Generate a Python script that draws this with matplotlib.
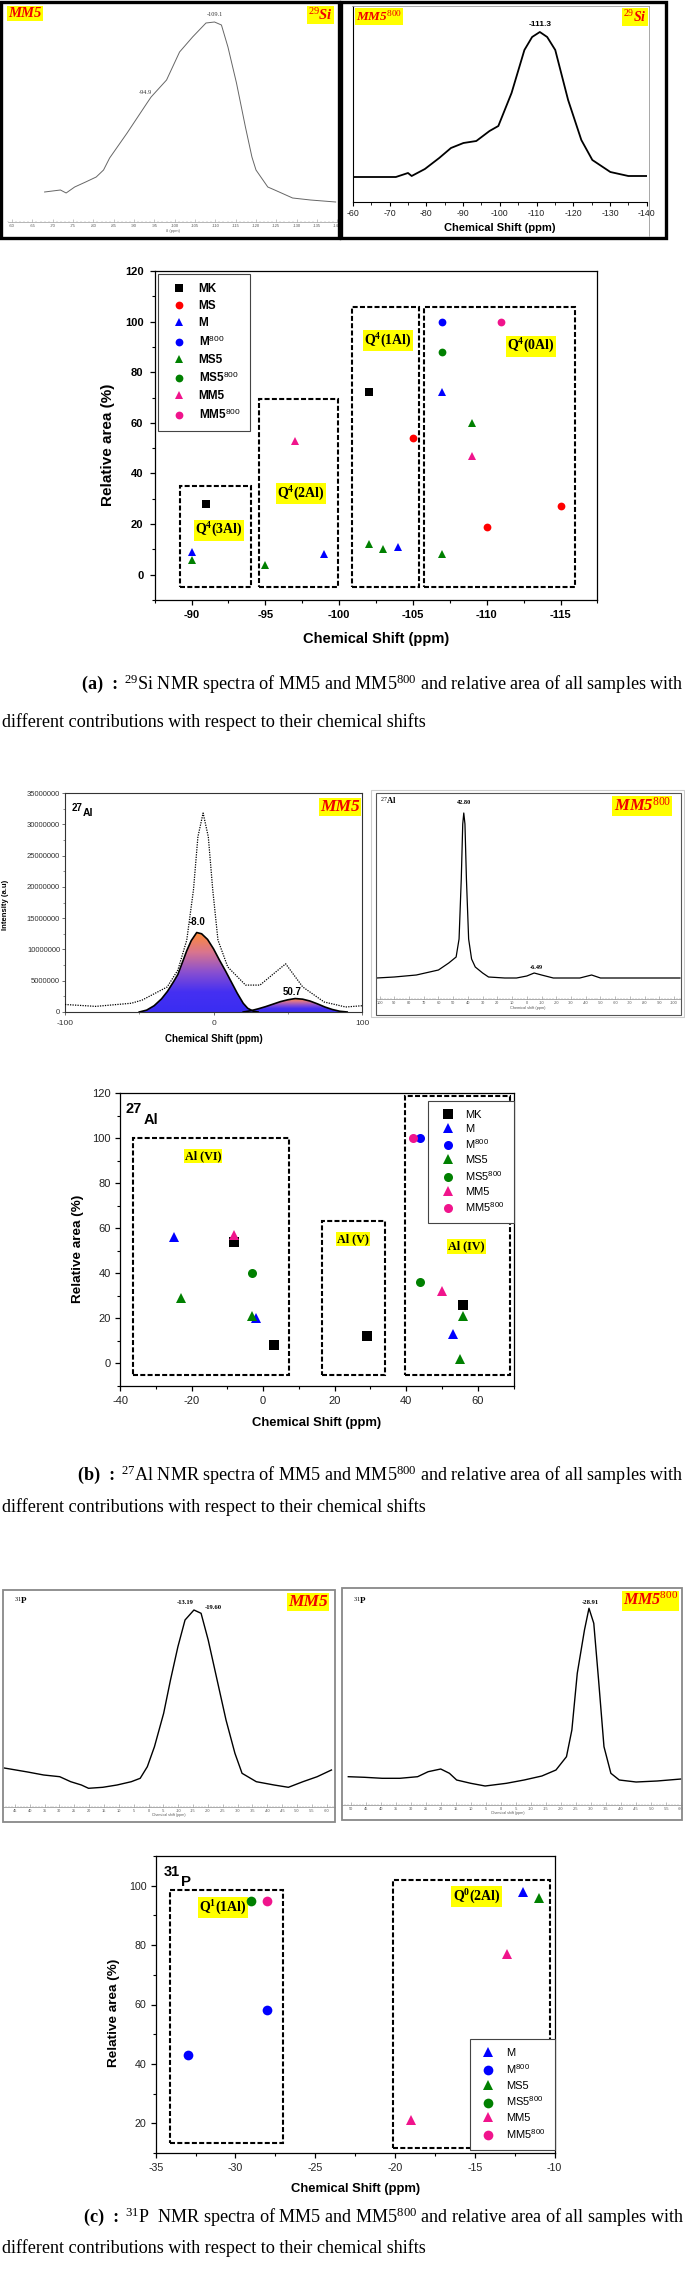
import numpy as np
import matplotlib
matplotlib.use('Agg')
import matplotlib.pyplot as plt
from matplotlib.lines import Line2D
from matplotlib.patches import Rectangle
from matplotlib.colors import LinearSegmentedColormap
from matplotlib.ticker import MultipleLocator, FixedLocator, FuncFormatter

plt.rcParams['font.family'] = ['Liberation Sans', 'DejaVu Sans']
plt.rcParams['mathtext.fontset'] = 'custom'
plt.rcParams['mathtext.rm'] = 'Liberation Serif'
plt.rcParams['mathtext.it'] = 'Liberation Serif:italic'
plt.rcParams['mathtext.bf'] = 'Liberation Serif:bold'
plt.rcParams['mathtext.sf'] = 'Liberation Sans'
plt.rcParams['axes.unicode_minus'] = False

SERIF = ['Liberation Serif', 'DejaVu Serif']
SANS = ['Liberation Sans', 'DejaVu Sans']

# ======================= DATA =======================
# --- 29Si spectra ---
si_mm5_shift = [-68, -71.9, -73.3, -75.4, -78.1, -80.7, -82.5, -84.0, -88.3, -93.2, -94.2, -98.0,
                -101.2, -104.4, -107.7, -109.8, -111.5, -113.1, -115.2, -117.4, -119.0, -120.0,
                -122.9, -124.6, -129.0, -133.4, -139.6]
si_mm5_int = [30, 32, 29, 35, 40, 45, 52, 64, 89, 119, 125, 142, 170, 185, 199, 200, 197, 175,
              139, 95, 65, 52, 35, 32, 24, 22, 20]
si_mm5800_shift = [-60, -71.7, -75.0, -76.0, -79.6, -83.5, -86.7, -90.1, -93.6, -97.2, -99.6, -103.2,
                   -106.7, -108.8, -110.9, -112.9, -115.1, -118.6, -122.2, -125.2, -130.1, -135, -140]
si_mm5800_int = [25, 25, 29, 26, 33, 44, 54, 59, 61, 71, 76, 109, 152, 165, 170, 165, 152, 102,
                 62, 42, 30, 26, 26]

# --- 29Si relative areas ---
si_MK_x, si_MK_y = [-91, -102], [28, 72]
si_MS_x, si_MS_y = [-105, -110, -115], [54, 19, 27]
si_M_x, si_M_y = [-90, -99, -104, -107], [9, 8, 11, 72]
si_M800_x, si_M800_y = [-107], [100]
si_MS5_x, si_MS5_y = [-90, -95, -102, -103, -107, -109], [6, 4, 12, 10, 8, 60]
si_MS5800_x, si_MS5800_y = [-107], [88]
si_MM5_x, si_MM5_y = [-97, -109], [53, 47]
si_MM5800_x, si_MM5800_y = [-111], [100]
si_box_x0 = [-89.25, -94.6, -100.9, -105.75]
si_box_x1 = [-94.05, -99.9, -105.4, -116.0]
si_box_top = [35, 69.4, 105.6, 105.6]
si_box_bottom = -5
si_box_labels = [r'Q$^{\mathbf{4}}$(3Al)', r'Q$^{\mathbf{4}}$(2Al)', r'Q$^{\mathbf{4}}$(1Al)', r'Q$^{\mathbf{4}}$(0Al)']
si_lab_x = [-91.85, -97.4, -103.3, -113.0]
si_lab_y = [17.6, 32, 92.4, 90.3]

# --- 27Al spectra ---
al_env_shift = [-100, -79.3, -55.3, -48.1, -31.2, -24.0, -18.0, -13.5, -10.5, -7, -3.5, -0.5, 3,
                9.6, 21.6, 31.3, 40.9, 48.6, 60.1, 74.5, 89.0, 100]
al_env_int = [1.2, 0.9, 1.4, 1.9, 4.0, 6.7, 11.5, 19.5, 28.0, 31.8, 28.0, 19.5, 11.5, 7.2, 4.3,
              4.3, 6.2, 7.7, 4.0, 1.6, 0.8, 1.0]          # x 1e6
al_c1_shift = [-50, -45, -40, -35, -31, -27, -24, -21, -18, -15, -11.3, -8, -4, 0, 4, 8, 12, 16,
               20, 23, 27, 30]
al_c1_int = [0, 0.3, 1.0, 2.1, 3.3, 4.8, 6.0, 7.9, 9.8, 11.4, 12.7, 12.5, 11.6, 10.1, 8.3, 6.6,
             4.8, 3.0, 1.4, 0.6, 0.1, 0]
al_c2_shift = [20, 25, 30, 35, 40, 45, 50, 55, 60, 65, 70, 75, 80, 85, 90]
al_c2_int = [0, 0.2, 0.5, 0.85, 1.25, 1.65, 1.95, 2.15, 2.05, 1.75, 1.3, 0.8, 0.4, 0.12, 0]
al_mm5800_shift = [102, 90, 75, 60, 53, 48, 46, 44.5, 43.5, 42.8, 42, 41, 39.5, 37.5, 35, 30, 26,
                   15, 7, 0, -5, -10, -18, -36, -44, -50, -70, -104]
al_mm5800_int = [21, 22, 24, 29, 36, 42, 60, 120, 175, 186, 175, 120, 60, 40, 32, 26, 22, 21, 21,
                 23, 26, 24, 21, 21, 24, 21, 21, 21]

# --- 27Al relative areas ---
al_MK_x, al_MK_y = [-8, 3, 29, 56], [54, 8, 12, 26]
al_M_x, al_M_y = [-25, -2, 53], [56, 20, 13]
al_M800_x, al_M800_y = [44], [100]
al_MS5_x, al_MS5_y = [-23, -3, 56, 55], [29, 21, 21, 2]
al_MS5800_x, al_MS5800_y = [-3, 44], [40, 36]
al_MM5_x, al_MM5_y = [-8, 50], [57, 32]
al_MM5800_x, al_MM5800_y = [42], [100]
al_box_x0 = [-36.3, 16.4, 39.6]
al_box_x1 = [7.2, 34.1, 68.9]
al_box_top = [100, 63.2, 118.5]
al_box_bottom = -5.3
al_box_labels = ['Al (VI)', 'Al (V)', 'Al (IV)']
al_lab_x = [-16.8, 25.1, 56.9]
al_lab_y = [92.1, 55.1, 51.9]

# --- 31P spectra ---
p_mm5_shift = [48.6, 40.7, 35.3, 29.9, 26.2, 22.6, 20.2, 15.4, 10.6, 5.8, 2.8, 0.4, -2.0, -5.1,
               -7.4, -9.9, -12.3, -15.3, -17.7, -20.1, -23.1, -26.1, -29.1, -31.5, -36.3, -42.3,
               -47.1, -52.0, -56.8, -61.6]
p_mm5_int = [38.7, 34.7, 31.7, 30, 25, 21.7, 18.4, 19.4, 21.7, 25, 28.4, 40, 60, 93.4, 126.7,
             160, 186.7, 196.7, 193.4, 166.7, 126.7, 86.7, 53.4, 33.4, 25, 21.7, 19.4, 25, 30, 36.7]
p_mm5800_shift = [50.9, 45.5, 39.6, 33.7, 27.8, 24.3, 20.1, 17.2, 14.8, 10.1, 5.3, -1.8, -7.7,
                  -13.6, -18.3, -21.8, -23.6, -25.4, -27.8, -29.3, -30.9, -32.5, -34.3, -36.6,
                  -39.4, -45, -52, -60]
p_mm5800_int = [28.3, 27.7, 26.7, 26.7, 28.3, 33.3, 36, 31.7, 25, 21.7, 19, 21.7, 25, 29, 35,
                48.3, 75, 131.7, 175, 196.7, 181.7, 125, 58.3, 31.7, 25, 23, 24, 26]

# --- 31P relative areas ---
p_M_x, p_M_y = [-12], [98]
p_M800_x, p_M800_y = [-33, -28], [43, 58]
p_MS5_x, p_MS5_y = [-11], [96]
p_MS5800_x, p_MS5800_y = [-29], [95]
p_MM5_x, p_MM5_y = [-13, -19], [77, 21]
p_MM5800_x, p_MM5800_y = [-28], [95]
p_box_x0 = [-34.1, -20.1]
p_box_x1 = [-27.0, -10.3]
p_box_y0 = [13.2, 11.7]
p_box_y1 = [98.6, 102]
p_box_labels = [r'Q$^{\mathbf{1}}$(1Al)', r'Q$^{\mathbf{0}}$(2Al)']
p_lab_x = [-30.8, -14.9]
p_lab_y = [92.7, 96.4]

captions = [
    ('(a)  :', r'$^{29}$Si NMR spectra of MM5 and MM5$^{800}$ and relative area of all samples with'),
    ('(b)  :', r'$^{27}$Al NMR spectra of MM5 and MM5$^{800}$ and relative area of all samples with'),
    ('(c)  :', r'$^{31}$P  NMR spectra of MM5 and MM5$^{800}$ and relative area of all samples with'),
]
caption_line2 = 'different contributions with respect to their chemical shifts'

# ======================= STYLE TABLES =======================
STY = {'MK': ('s', '#000000'), 'MS': ('o', '#FF0000'), 'M': ('^', '#0000FF'),
       'M800': ('o', '#0000FF'), 'MS5': ('^', '#008000'), 'MS5800': ('o', '#008000'),
       'MM5': ('^', '#F0148C'), 'MM5800': ('o', '#F0148C')}
LAB = {'MK': 'MK', 'MS': 'MS', 'M': 'M', 'M800': r'M$^{\mathsf{800}}$', 'MS5': 'MS5',
       'MS5800': r'MS5$^{\mathsf{800}}$', 'MM5': 'MM5', 'MM5800': r'MM5$^{\mathsf{800}}$'}

si_series = {'MK': (si_MK_x, si_MK_y), 'MS': (si_MS_x, si_MS_y), 'M': (si_M_x, si_M_y),
             'M800': (si_M800_x, si_M800_y), 'MS5': (si_MS5_x, si_MS5_y),
             'MS5800': (si_MS5800_x, si_MS5800_y), 'MM5': (si_MM5_x, si_MM5_y),
             'MM5800': (si_MM5800_x, si_MM5800_y)}
al_series = {'MK': (al_MK_x, al_MK_y), 'M': (al_M_x, al_M_y), 'M800': (al_M800_x, al_M800_y),
             'MS5': (al_MS5_x, al_MS5_y), 'MS5800': (al_MS5800_x, al_MS5800_y),
             'MM5': (al_MM5_x, al_MM5_y), 'MM5800': (al_MM5800_x, al_MM5800_y)}
p_series = {'M': (p_M_x, p_M_y), 'M800': (p_M800_x, p_M800_y), 'MS5': (p_MS5_x, p_MS5_y),
            'MS5800': (p_MS5800_x, p_MS5800_y), 'MM5': (p_MM5_x, p_MM5_y),
            'MM5800': (p_MM5800_x, p_MM5800_y)}

W, H = 685, 2269
fig = plt.figure(figsize=(W / 100, H / 100), dpi=100)
fig.patch.set_facecolor('white')


def ax_px(x0, y0, x1, y1, **kw):
    return fig.add_axes([x0 / W, 1 - y1 / H, (x1 - x0) / W, (y1 - y0) / H], **kw)


ov = fig.add_axes([0, 0, 1, 1], zorder=50)
ov.set_xlim(0, W)
ov.set_ylim(H, 0)
ov.axis('off')
ov.patch.set_alpha(0)


def otext(x, y, s, **kw):
    return ov.text(x, y, s, **kw)


def orect(x0, y0, x1, y1, **kw):
    ov.add_patch(Rectangle((x0, y0), x1 - x0, y1 - y0, fill=False, **kw))


def tag(x, y, s, size, ha='left'):
    otext(x, y, s, fontsize=size, color='#F00000', fontweight='bold', fontstyle='italic',
          family=SERIF, ha=ha, va='top',
          bbox=dict(boxstyle='square,pad=0.08', fc='#FFFF00', ec='none'))


def tiny_axis(ax, major, minor, color='#888888', size=2.8):
    for s in ['top', 'right', 'left']:
        ax.spines[s].set_visible(False)
    ax.spines['bottom'].set_color(color)
    ax.spines['bottom'].set_linewidth(0.5)
    ax.set_yticks([])
    ax.xaxis.set_major_locator(MultipleLocator(major))
    ax.xaxis.set_minor_locator(MultipleLocator(minor))
    ax.tick_params(axis='x', which='major', direction='in', length=2, width=0.4, color=color,
                   labelsize=size, labelcolor='#555555', pad=1.5)
    ax.tick_params(axis='x', which='minor', direction='in', length=1, width=0.3, color=color)
    ax.patch.set_alpha(0)


def style_scatter(ax, xlim, ylim, xmaj, xmin, ymaj, ymin, labelsize, bold, color, xpad, ypad):
    ax.set_xlim(*xlim)
    ax.set_ylim(*ylim)
    ax.xaxis.set_major_locator(FixedLocator(xmaj))
    ax.xaxis.set_minor_locator(MultipleLocator(xmin))
    ax.yaxis.set_major_locator(FixedLocator(ymaj))
    ax.yaxis.set_minor_locator(MultipleLocator(ymin))
    ax.xaxis.set_major_formatter(FuncFormatter(lambda v, p: '%g' % v))
    ax.yaxis.set_major_formatter(FuncFormatter(lambda v, p: '%g' % v))
    ax.tick_params(which='major', direction='out', length=3.5, width=0.9, labelsize=labelsize,
                   labelcolor=color)
    ax.tick_params(axis='x', which='major', pad=xpad)
    ax.tick_params(axis='y', which='major', pad=ypad)
    ax.tick_params(which='minor', direction='out', length=2, width=0.8)
    for sp in ax.spines.values():
        sp.set_linewidth(0.9)
    for lab in ax.get_xticklabels() + ax.get_yticklabels():
        lab.set_family(SANS)
        if bold:
            lab.set_fontweight('bold')


def plot_series(ax, series, ms):
    for k, (xs, ys) in series.items():
        m, c = STY[k]
        ax.plot(xs, ys, ls='none', marker=m, color=c, markersize=ms, markeredgewidth=0,
                zorder=5, clip_on=False)


def make_legend(ax, keys, x0, y0, fontsize, weight, ms, borderpad, hl, htp, ls):
    handles = [Line2D([], [], ls='none', marker=STY[k][0], color=STY[k][1], markersize=ms,
                      markeredgewidth=0) for k in keys]
    leg = ax.legend(handles, [LAB[k] for k in keys], loc='upper left',
                    bbox_to_anchor=(x0 / W, 1 - y0 / H), bbox_transform=fig.transFigure,
                    borderaxespad=0, frameon=True, fancybox=False, edgecolor='#444444',
                    framealpha=1, prop=dict(family=SANS, weight=weight, size=fontsize),
                    handlelength=hl, handletextpad=htp, labelspacing=ls, borderpad=borderpad)
    leg.get_frame().set_linewidth(0.8)
    leg.set_zorder(10)
    return leg


DASH = (0, (2.4, 1.1))

# ======================= (a) 29Si =======================
orect(1.5, 1.5, 339, 237.5, lw=2.4, ec='black')
orect(341.5, 1.5, 666, 237.5, lw=2.4, ec='black')
ov.plot([352, 649.5], [6, 6], color='#999999', lw=0.6)
ov.plot([649.5, 649.5], [6, 236], color='#999999', lw=0.6)

ax = ax_px(8, 8, 337.3, 222)
ax.plot(si_mm5_shift, si_mm5_int, color='#666666', lw=0.7)
ax.set_xlim(-59, -140)
ax.set_ylim(0, 214)
tiny_axis(ax, 5, 1, color='#999999', size=3)
ax.set_xlabel('δ (ppm)', fontsize=3, color='#666666', labelpad=0.5)
ax.text(-110, 207, '-109.1', fontsize=4.5, family=SERIF, color='#333333', ha='center', va='center')
ax.text(-92.8, 129, '-94.9', fontsize=4.5, family=SERIF, color='#333333', ha='center', va='center')
tag(8, 7, 'MM5', 10.5)
tag(333, 7, r'$^{\mathit{29}}$Si', 10.5, ha='right')

ax = ax_px(352.9, 6, 646.7, 202)
ax.patch.set_alpha(0)
ax.plot(si_mm5800_shift, si_mm5800_int, color='black', lw=1.3)
ax.set_xlim(-60, -140)
ax.set_ylim(0, 196)
ax.spines['top'].set_visible(False)
ax.spines['right'].set_visible(False)
ax.set_yticks([])
ax.xaxis.set_major_locator(MultipleLocator(10))
ax.xaxis.set_minor_locator(MultipleLocator(5))
ax.xaxis.set_major_formatter(FuncFormatter(lambda v, p: '%g' % v))
ax.tick_params(axis='x', which='major', direction='out', length=3, width=0.8, labelsize=6.3,
               labelcolor='#222222', pad=2)
ax.tick_params(axis='x', which='minor', direction='out', length=1.8, width=0.6)
ax.text(-110.9, 178, '-111.3', fontsize=6, fontweight='bold', ha='center', va='center')
otext(500, 228, 'Chemical Shift (ppm)', fontsize=8, fontweight='bold', ha='center', va='center')
tag(356, 9, r'MM5$^{\mathit{800}}$', 9.5)
tag(647, 9, r'$^{\mathit{29}}$Si', 10, ha='right')

# scatter
ax = ax_px(154.6, 271, 597.4, 600)
style_scatter(ax, (-87.5, -117.5), (-10, 120), [-90, -95, -100, -105, -110, -115], 2.5,
              list(range(0, 121, 20)), 10, 8, True, 'black', 4, 4.5)
for x0, x1, top in zip(si_box_x0, si_box_x1, si_box_top):
    ax.add_patch(Rectangle((x0, si_box_bottom), x1 - x0, top - si_box_bottom, fill=False,
                           ls=DASH, lw=1.5, ec='black', zorder=3))
for s, x, y in zip(si_box_labels, si_lab_x, si_lab_y):
    ax.text(x, y, s, fontsize=10, fontweight='bold', family=SERIF, ha='center', va='center',
            bbox=dict(boxstyle='square,pad=0.1', fc='#FFFF00', ec='none'), zorder=4)
plot_series(ax, si_series, 5.6)
make_legend(ax, list(si_series.keys()), 157.5, 274, 8.5, 'bold', 5.6, 0.8, 2.0, 0.68, 0.42)
otext(376, 639, 'Chemical Shift (ppm)', fontsize=10.5, fontweight='bold', ha='center', va='center')
otext(108, 445, 'Relative area (%)', fontsize=11, fontweight='bold', ha='center', va='center',
      rotation=90)

# ======================= (b) 27Al =======================
ax = ax_px(65, 793, 362, 1012)
grad_cmap = LinearSegmentedColormap.from_list(
    'g', ['#3A2DF2', '#4530F2', '#8A50D0', '#D9758E', '#FF8A35'])


def gradient_fill(ax, x, y):
    x = np.asarray(x, float)
    y = np.asarray(y, float)
    poly = ax.fill(np.r_[x, x[::-1]], np.r_[y, np.zeros_like(y)], facecolor='none',
                   edgecolor='none')[0]
    grad = np.linspace(0, 1, 256).reshape(-1, 1)
    im = ax.imshow(grad, extent=[x.min(), x.max(), 0, y.max()], origin='lower', aspect='auto',
                   cmap=grad_cmap, zorder=2)
    im.set_clip_path(poly)
    ax.plot(x, y, color='black', lw=1.2, zorder=3)


gradient_fill(ax, al_c1_shift, al_c1_int)
gradient_fill(ax, al_c2_shift, al_c2_int)
ax.plot(al_env_shift, al_env_int, color='black', ls=(0, (1, 1)), lw=0.9, zorder=4)
ax.set_xlim(-100, 100)
ax.set_ylim(0, 35)
ax.xaxis.set_major_locator(FixedLocator([-100, 0, 100]))
ax.xaxis.set_minor_locator(MultipleLocator(50))
ax.yaxis.set_major_locator(MultipleLocator(5))
ax.yaxis.set_minor_locator(MultipleLocator(2.5))
ax.yaxis.set_major_formatter(FuncFormatter(lambda v, p: '%d' % round(v * 1e6)))
ax.xaxis.set_major_formatter(FuncFormatter(lambda v, p: '%g' % v))
ax.tick_params(which='major', direction='out', length=2.5, width=0.5, labelsize=5.5,
               labelcolor='#333333', color='#333333')
ax.tick_params(axis='y', which='major', pad=1)
ax.tick_params(axis='x', which='major', pad=3, labelsize=6)
ax.tick_params(which='minor', direction='out', length=1.5, width=0.4, color='#333333')
for sp in ax.spines.values():
    sp.set_linewidth(0.8)
    sp.set_color('#333333')
ax.text(-11.3, 14.4, '-8.0', fontsize=7, fontweight='bold', ha='center', va='center', zorder=6)
ax.text(52.9, 3.2, '50.7', fontsize=7, fontweight='bold', ha='center', va='center', zorder=6)
otext(72, 808, '27', fontsize=7, fontweight='bold', ha='left', va='center')
otext(82.5, 813, 'Al', fontsize=7.5, fontweight='bold', ha='left', va='center')
tag(360, 799, 'MM5', 12.5, ha='right')
otext(214, 1039, 'Chemical Shift (ppm)', fontsize=7, fontweight='bold', ha='center', va='center')
otext(6, 905, 'Intensity (a.u)', fontsize=5.5, fontweight='bold', ha='center', va='center',
      rotation=90)

# MM5800 27Al
orect(371, 790, 684, 1017, lw=0.8, ec='#CCCCCC')
orect(376, 793, 681, 1015, lw=0.8, ec='#555555')
ax = ax_px(376, 793, 681, 999)
ax.plot(al_mm5800_shift, al_mm5800_int, color='black', lw=0.9)
ax.set_xlim(102.4, -104.7)
ax.set_ylim(0, 206)
tiny_axis(ax, 10, 2, color='#888888', size=2.8)
otext(528, 1008, 'Chemical shift (ppm)', fontsize=2.8, color='#555555', ha='center', va='center')
otext(380, 800, r'$^{27}$Al', fontsize=6, fontweight='bold', family=SERIF, ha='left', va='center')
ax.text(42.8, 196, '42.80', fontsize=4.5, fontweight='bold', family=SERIF, ha='center', va='center')
ax.text(-6.49, 32, '-6.49', fontsize=4.5, fontweight='bold', family=SERIF, ha='center', va='center')
tag(671, 797, r'MM5$^{\mathit{800}}$', 12, ha='right')

# scatter
ax = ax_px(120, 1093, 513.5, 1386)
style_scatter(ax, (-40, 70), (-10, 120), [-40, -20, 0, 20, 40, 60], 10,
              list(range(0, 121, 20)), 10, 8, False, '#222222', 3.5, 3)
for x0, x1, top in zip(al_box_x0, al_box_x1, al_box_top):
    ax.add_patch(Rectangle((x0, al_box_bottom), x1 - x0, top - al_box_bottom, fill=False,
                           ls=DASH, lw=1.5, ec='black', zorder=3))
for s, x, y in zip(al_box_labels, al_lab_x, al_lab_y):
    ax.text(x, y, s, fontsize=8.7, fontweight='bold', family=SERIF, ha='center', va='center',
            bbox=dict(boxstyle='square,pad=0.1', fc='#FFFF00', ec='none'), zorder=4)
plot_series(ax, al_series, 6.5)
make_legend(ax, list(al_series.keys()), 428.4, 1100.7, 8, 'normal', 6.5, 0.8, 1.93, 0.59, 0.38)
otext(126, 1109, '27', fontsize=10.5, fontweight='bold', ha='left', va='center')
otext(143.5, 1120, 'Al', fontsize=10.5, fontweight='bold', ha='left', va='center')
otext(317, 1423, 'Chemical Shift (ppm)', fontsize=9.4, fontweight='bold', ha='center', va='center')
otext(78, 1249, 'Relative area (%)', fontsize=9.7, fontweight='bold', ha='center', va='center',
      rotation=90)

# ======================= (c) 31P =======================
orect(3, 1590, 335, 1821.7, lw=1.3, ec='#888888')
ax = ax_px(3, 1590, 335, 1806.7)
ax.plot(p_mm5_shift, p_mm5_int, color='black', lw=1.0)
ax.set_xlim(49, -62.8)
ax.set_ylim(0, 216.7)
tiny_axis(ax, 5, 1, color='#888888', size=2.8)
otext(169, 1815, 'Chemical shift (ppm)', fontsize=2.6, color='#555555', ha='center', va='center')
ax.text(-12.3, 204, '-13.19', fontsize=4.8, fontweight='bold', family=SERIF, ha='center', va='center')
ax.text(-21.8, 199, '-19.60', fontsize=4.8, fontweight='bold', family=SERIF, ha='center', va='center')
otext(14, 1601, r'$^{31}$P', fontsize=6.5, fontweight='bold', family=SERIF, ha='left', va='center')
tag(328, 1594, 'MM5', 12.5, ha='right')

orect(342, 1588.3, 682, 1820, lw=1.3, ec='#888888')
ax = ax_px(342, 1588.3, 682, 1805)
ax.plot(p_mm5800_shift, p_mm5800_int, color='black', lw=1.0)
ax.set_xlim(53, -60.3)
ax.set_ylim(0, 216.7)
tiny_axis(ax, 5, 1, color='#888888', size=2.8)
otext(508, 1813, 'Chemical shift (ppm)', fontsize=2.6, color='#555555', ha='center', va='center')
ax.text(-29.8, 202, '-28.91', fontsize=4.8, fontweight='bold', family=SERIF, ha='center', va='center')
otext(353, 1601, r'$^{31}$P', fontsize=6.5, fontweight='bold', family=SERIF, ha='left', va='center')
tag(678, 1592, r'MM5$^{\mathit{800}}$', 11.5, ha='right')

# scatter
ax = ax_px(155.7, 1856, 554.5, 2153)
style_scatter(ax, (-35, -10), (10, 110), [-35, -30, -25, -20, -15, -10], 2.5,
              [20, 40, 60, 80, 100], 10, 7.7, False, '#222222', 3.5, 3)
for x0, x1, y0, y1 in zip(p_box_x0, p_box_x1, p_box_y0, p_box_y1):
    ax.add_patch(Rectangle((x0, y0), x1 - x0, y1 - y0, fill=False, ls=DASH, lw=1.5,
                           ec='black', zorder=3))
for s, x, y in zip(p_box_labels, p_lab_x, p_lab_y):
    ax.text(x, y, s, fontsize=10, fontweight='bold', family=SERIF, ha='center', va='center',
            bbox=dict(boxstyle='square,pad=0.1', fc='#FFFF00', ec='none'), zorder=4)
plot_series(ax, p_series, 7)
make_legend(ax, list(p_series.keys()), 469.9, 2039.3, 8, 'normal', 7, 0.8, 1.73, 0.75, 0.42)
otext(163.5, 1871.7, '31', fontsize=10.5, fontweight='bold', ha='left', va='center')
otext(181, 1882, 'P', fontsize=10.8, fontweight='bold', ha='left', va='center')
otext(356, 2189, 'Chemical Shift (ppm)', fontsize=9.4, fontweight='bold', ha='center', va='center')
otext(113.6, 2013, 'Relative area (%)', fontsize=9.7, fontweight='bold', ha='center', va='center',
      rotation=90)

# ======================= captions =======================
renderer = fig.canvas.get_renderer()
_t = ov.text(0, 0, caption_line2, fontsize=12, family=SERIF)
cap_size = 12 * 424 / _t.get_window_extent(renderer).width
_t.remove()

cap_y = [(684, 722), (1475, 1507), (2217, 2248)]
for (lab, line1), (y1, y2) in zip(captions, cap_y):
    t = otext(684, y1, line1, fontsize=cap_size, family=SERIF, ha='right', va='center')
    bb = t.get_window_extent(renderer)
    otext(bb.x0 - 6, y1, lab, fontsize=cap_size, family=SERIF, fontweight='bold', ha='right',
          va='center')
    otext(2, y2, caption_line2, fontsize=cap_size, family=SERIF, ha='left', va='center')

fig.savefig('out.png', dpi=100, facecolor='white')
